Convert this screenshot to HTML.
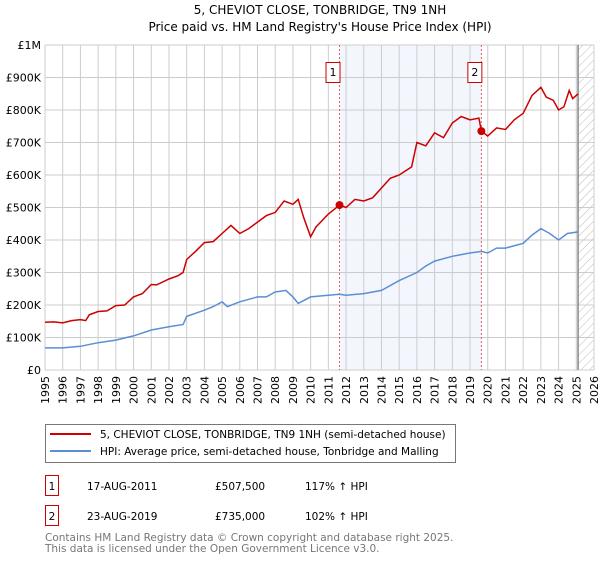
<!DOCTYPE html>
<html><head><meta charset="utf-8"><style>
body{margin:0;background:#fff;font-family:"DejaVu Sans","Liberation Sans",sans-serif;}
svg text{font-family:"DejaVu Sans","Liberation Sans",sans-serif;}
</style></head><body>
<svg id="chart" width="600" height="560" xmlns="http://www.w3.org/2000/svg">
<text x="320" y="14" text-anchor="middle" font-size="12" fill="#000">5, CHEVIOT CLOSE, TONBRIDGE, TN9 1NH</text>
<text x="320" y="31" text-anchor="middle" font-size="12" fill="#000">Price paid vs. HM Land Registry's House Price Index (HPI)</text>
<defs><pattern id="hatch" width="6" height="6" patternUnits="userSpaceOnUse" patternTransform="rotate(45)"><line x1="0" y1="0" x2="0" y2="6" stroke="#bbb" stroke-width="1"/></pattern></defs>
<g id="grid"></g><g id="marks"></g>
<g>
<rect x="45.5" y="424.5" width="410" height="38" fill="#fff" stroke="#777"/>
<line x1="50" y1="434" x2="91" y2="434" stroke="#cc0000" stroke-width="2"/>
<text x="100" y="438" font-size="10.5">5, CHEVIOT CLOSE, TONBRIDGE, TN9 1NH (semi-detached house)</text>
<line x1="50" y1="451" x2="91" y2="451" stroke="#5b8fd4" stroke-width="2"/>
<text x="100" y="455" font-size="10.5">HPI: Average price, semi-detached house, Tonbridge and Malling</text>
</g>
<g font-size="10.5">
<rect x="45.5" y="475.5" width="13" height="20" fill="#fff" stroke="#cc0000"/><text x="52" y="490" text-anchor="middle">1</text>
<text x="87" y="490">17-AUG-2011</text><text x="215" y="490">£507,500</text><text x="305" y="490">117% ↑ HPI</text>
<rect x="45.5" y="505.5" width="13" height="20" fill="#fff" stroke="#cc0000"/><text x="52" y="520" text-anchor="middle">2</text>
<text x="87" y="520">23-AUG-2019</text><text x="215" y="520">£735,000</text><text x="305" y="520">102% ↑ HPI</text>
</g>
<text x="45" y="541" font-size="10.5" fill="#777">Contains HM Land Registry data © Crown copyright and database right 2025.</text>
<text x="45" y="552" font-size="10.5" fill="#777">This data is licensed under the Open Government Licence v3.0.</text>
</svg>
<script>
const yTicks=[0,100,200,300,400,500,600,700,800,900,1000];
const yTickLabels=["£0","£100K","£200K","£300K","£400K","£500K","£600K","£700K","£800K","£900K","£1M"];
const years=[1995,1996,1997,1998,1999,2000,2001,2002,2003,2004,2005,2006,2007,2008,2009,2010,2011,2012,2013,2014,2015,2016,2017,2018,2019,2020,2021,2022,2023,2024,2025,2026];
const redT=[1995,1995.5,1996,1996.5,1997,1997.3,1997.5,1998,1998.5,1999,1999.5,2000,2000.5,2001,2001.3,2002,2002.5,2002.8,2003,2003.5,2004,2004.5,2005,2005.5,2006,2006.5,2007,2007.5,2008,2008.5,2009,2009.3,2009.6,2010,2010.3,2011,2011.63,2012,2012.5,2013,2013.5,2014,2014.5,2015,2015.7,2016,2016.5,2017,2017.5,2018,2018.5,2019,2019.5,2019.64,2020,2020.5,2021,2021.5,2022,2022.5,2023,2023.3,2023.7,2024,2024.3,2024.6,2024.8,2025.1];
const redV=[147,148,145,152,155,152,170,180,182,198,200,225,235,263,262,280,290,300,340,365,392,395,420,445,420,435,455,475,485,520,510,525,470,410,440,480,507.5,500,525,520,530,560,590,600,625,700,690,730,715,760,780,770,775,735,720,745,740,770,790,845,870,840,830,800,810,860,835,850];
const blueT=[1995,1996,1997,1998,1999,2000,2001,2002,2002.8,2003,2004,2004.5,2005,2005.3,2006,2007,2007.5,2008,2008.6,2009,2009.3,2010,2011,2011.63,2012,2013,2014,2015,2016,2016.5,2017,2018,2018.5,2019,2019.64,2020,2020.5,2021,2022,2022.5,2023,2023.5,2024,2024.5,2025.1];
const blueV=[68,68,73,84,92,105,123,133,140,165,184,195,210,195,210,225,225,240,245,225,205,225,230,233,230,235,245,275,300,320,335,350,355,360,365,360,375,375,390,415,435,420,400,420,425];
const saleT=[2011.63,2019.64];
const saleV=[507.5,735];
const X0=45,X1=594,Y0=370,Y1=45;
const x=t=>X0+(t-1995)/(2026-1995)*(X1-X0);
const y=v=>Y0-v/1000*(Y0-Y1);
const NS="http://www.w3.org/2000/svg";
function mk(tag,attrs,parent,text){const e=document.createElementNS(NS,tag);for(const k in attrs)e.setAttribute(k,attrs[k]);if(text!==undefined)e.textContent=text;parent.appendChild(e);return e;}
const grid=document.getElementById('grid'),marks=document.getElementById('marks');
// shaded region
let sh=mk('rect',{x:x(saleT[0]),y:Y1,width:x(saleT[1])-x(saleT[0]),height:Y0-Y1,fill:'#eef3fc',opacity:0.7},grid);


let ht=mk('rect',{x:x(2025.1),y:Y1,width:X1-x(2025.1),height:Y0-Y1,fill:'url(#hatch)'},grid);


years.forEach(t=>{
  mk('line',{x1:x(t),x2:x(t),y1:Y1,y2:Y0,stroke:'#ccc','stroke-width':1},grid);
  const l=mk('text',{x:0,y:0,'font-size':11,'text-anchor':'end',transform:`translate(${x(t)+4},${Y0+6}) rotate(-90)`},grid,String(t));
  
  
});
yTicks.forEach((v,i)=>{
  mk('line',{x1:X0,x2:X1,y1:y(v),y2:y(v),stroke:'#ccc','stroke-width':1},grid);
  const l=mk('text',{x:X0-4,y:y(v)+4,'font-size':11,'text-anchor':'end'},grid,yTickLabels[i]);
  
  
});
mk('line',{x1:x(2025.1),x2:x(2025.1),y1:Y1,y2:Y0,stroke:'#888','stroke-width':1.5},grid);
saleT.forEach((t,i)=>{
  mk('line',{x1:x(t),x2:x(t),y1:Y1,y2:Y0,stroke:'#e06060','stroke-width':1,'stroke-dasharray':'2,2'},grid);
  const b=mk('rect',{x:x(t)-13.5,y:62.5,width:14,height:20,fill:'#fff',stroke:'#cc0000'},grid);
  
  
  mk('text',{x:x(t)-6.5,y:76,'font-size':11,'text-anchor':'middle'},grid,String(i+1));
});
const pts=(T,V)=>T.map((t,i)=>x(t).toFixed(1)+','+y(V[i]).toFixed(1)).join(' ');
const bl=mk('polyline',{points:pts(blueT,blueV),fill:'none',stroke:'#5b8fd4','stroke-width':1.5},marks);


const rl=mk('polyline',{points:pts(redT,redV),fill:'none',stroke:'#cc0000','stroke-width':1.5},marks);


saleT.forEach((t,i)=>{
  const c=mk('circle',{cx:x(t),cy:y(saleV[i]),r:4,fill:'#cc0000'},marks);
  
  
});
</script>
</body></html>
